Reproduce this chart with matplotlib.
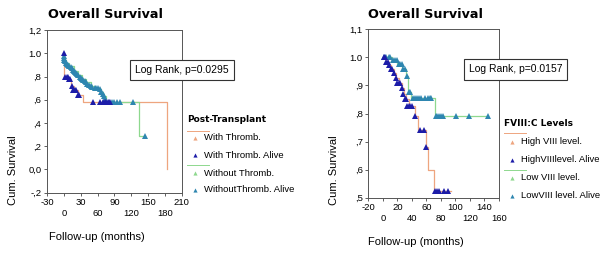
import matplotlib
matplotlib.use("Agg")
import matplotlib.pyplot as plt
from matplotlib.lines import Line2D

plt.rcParams['font.family'] = ['Liberation Sans', 'DejaVu Sans']

# ---- left panel: post-transplant thrombosis ----
thr_t = [0, 1, 10, 13, 18, 26, 34, 183]
thr_s = [1.0, 0.80, 0.78, 0.72, 0.68, 0.64, 0.58, 0.0]
thr_cens_t = [0, 2, 5, 7, 9, 11, 14, 17, 19, 21, 25, 27, 52, 64, 70, 73, 76, 78, 80, 83]
thr_cens_s = [1.0, 0.80, 0.80, 0.80, 0.78, 0.78, 0.72, 0.68, 0.68, 0.68, 0.64, 0.64,
              0.58, 0.58, 0.58, 0.58, 0.58, 0.58, 0.58, 0.58]

nothr_t = [0, 1, 4, 10, 18, 26, 33, 40, 48, 55, 64, 67, 70, 72, 75, 134, 145]
nothr_s = [1.0, 0.94, 0.92, 0.89, 0.85, 0.81, 0.78, 0.75, 0.72, 0.70, 0.69, 0.67, 0.65, 0.63, 0.58, 0.29, 0.29]
nothr_cens_t = [0, 0, 1, 2, 4, 6, 8, 10, 12, 14, 16, 18, 20, 22, 24, 26, 28, 30, 33, 35,
                38, 40, 42, 45, 48, 51, 55, 58, 61, 64, 67, 70, 72, 74, 85, 90, 95, 100, 124, 145]
nothr_cens_s = [0.98, 0.96, 0.94, 0.93, 0.92, 0.91, 0.90, 0.89, 0.88, 0.87, 0.86, 0.85, 0.84,
                0.83, 0.82, 0.81, 0.80, 0.79, 0.78, 0.77, 0.76, 0.75, 0.74, 0.73, 0.72, 0.71,
                0.70, 0.70, 0.70, 0.69, 0.67, 0.65, 0.63, 0.61, 0.58, 0.58, 0.58, 0.58, 0.58, 0.29]

# ---- right panel: FVIII:C levels ----
high_t = [0, 5, 9, 11, 15, 18, 22, 27, 29, 32, 36, 45, 49, 59, 62, 71, 94]
high_s = [1.0, 0.985, 0.973, 0.96, 0.945, 0.925, 0.91, 0.89, 0.87, 0.85, 0.825, 0.79,
          0.74, 0.68, 0.60, 0.525, 0.525]
high_cens_t = [1, 3, 5, 7, 9, 11, 13, 16, 18, 20, 22, 24, 26, 28, 30, 32, 34, 36, 38, 40,
               45, 51, 57, 60, 72, 75, 78, 84, 90]
high_cens_s = [1.0, 1.0, 0.985, 0.985, 0.973, 0.96, 0.96, 0.945, 0.925, 0.91, 0.91, 0.91,
               0.89, 0.87, 0.85, 0.85, 0.825, 0.825, 0.825, 0.825, 0.79, 0.74, 0.74, 0.68,
               0.525, 0.525, 0.525, 0.525, 0.525]

low_t = [0, 12, 20, 27, 32, 35, 39, 72, 145]
low_s = [1.0, 0.99, 0.975, 0.96, 0.935, 0.875, 0.855, 0.79, 0.79]
low_cens_t = [2, 5, 8, 10, 14, 17, 19, 22, 24, 26, 28, 30, 33, 36, 38, 42, 44, 47, 50, 52,
              58, 63, 65, 67, 73, 75, 77, 80, 83, 101, 119, 145]
low_cens_s = [1.0, 1.0, 1.0, 1.0, 0.99, 0.99, 0.99, 0.975, 0.975, 0.975, 0.96, 0.96, 0.935,
              0.875, 0.875, 0.855, 0.855, 0.855, 0.855, 0.855, 0.855, 0.855, 0.855, 0.855,
              0.79, 0.79, 0.79, 0.79, 0.79, 0.79, 0.79, 0.79]

left_xticks = [-30, 0, 30, 60, 90, 120, 150, 180, 210]
left_yticks = [-0.2, 0.0, 0.2, 0.4, 0.6, 0.8, 1.0, 1.2]
left_ylabels = ['-,2', '0,0', ',2', ',4', ',6', ',8', '1.0', '1,2']
right_xticks = [-20, 0, 20, 40, 60, 80, 100, 120, 140, 160]
right_yticks = [0.5, 0.6, 0.7, 0.8, 0.9, 1.0, 1.1]
right_ylabels = [',5', ',6', ',7', ',8', ',9', '1.0', '1,1']

ORANGE = '#eea57f'
GREEN = '#8ed88e'
NAVY = '#1c1ca8'
TEAL = '#2e86b0'

W, H = 600, 258
fig = plt.figure(figsize=(6.0, 2.58), dpi=100)


def fx(px):
    return px / W


def fy(py):
    return 1 - py / H


def staggered(ticks):
    return [str(t) if i % 2 == 0 else '\n' + str(t) for i, t in enumerate(ticks)]


def style_axes(ax, xticks, yticks, ylabels):
    ax.set_xticks(xticks)
    ax.set_xticklabels(staggered(xticks), fontsize=6.8, linespacing=1.2)
    ax.set_yticks(yticks)
    ax.set_yticklabels(ylabels, fontsize=6.8)
    ax.tick_params(length=2.5, width=0.6, color='#444444', pad=1.5)
    for s in ax.spines.values():
        s.set_linewidth(0.7)
        s.set_color('#555555')


# left axes
ax1 = fig.add_axes([fx(47), fy(192.7), fx(134.7), (192.7 - 30.1) / H])
ax1.step(thr_t, thr_s, where='post', color=ORANGE, lw=0.9)
ax1.step(nothr_t, nothr_s, where='post', color=GREEN, lw=0.9)
ax1.plot(nothr_cens_t, nothr_cens_s, '^', color=TEAL, ms=3.8, mew=0)
ax1.plot(thr_cens_t, thr_cens_s, '^', color=NAVY, ms=3.8, mew=0)
ax1.set_xlim(-30, 210)
ax1.set_ylim(-0.2, 1.2)
style_axes(ax1, left_xticks, left_yticks, left_ylabels)

# right axes
ax2 = fig.add_axes([fx(368.3), fy(197.7), fx(130.5), (197.7 - 29.3) / H])
ax2.step(high_t, high_s, where='post', color=ORANGE, lw=0.9)
ax2.step(low_t, low_s, where='post', color=GREEN, lw=0.9)
ax2.plot(low_cens_t, low_cens_s, '^', color=TEAL, ms=3.8, mew=0)
ax2.plot(high_cens_t, high_cens_s, '^', color=NAVY, ms=3.8, mew=0)
ax2.set_xlim(-20, 160)
ax2.set_ylim(0.5, 1.1)
style_axes(ax2, right_xticks, right_yticks, right_ylabels)

# titles and axis labels
for x0 in (48, 368):
    fig.text(fx(x0), fy(14), 'Overall Survival', fontsize=9.2, fontweight='heavy',
             family='DejaVu Sans', va='center', ha='left')
fig.text(fx(13), fy(170), 'Cum. Survival', rotation=90, fontsize=8, va='center', ha='center')
fig.text(fx(334), fy(170), 'Cum. Survival', rotation=90, fontsize=8, va='center', ha='center')
fig.text(fx(49), fy(237), 'Follow-up (months)', fontsize=8, va='center', ha='left')
fig.text(fx(368), fy(242), 'Follow-up (months)', fontsize=8, va='center', ha='left')

# log rank boxes
fig.text(fx(182), fy(70), 'Log Rank, p=0.0295', fontsize=7.5, ha='center', va='center',
         bbox=dict(boxstyle='square,pad=0.5', fc='white', ec='#333333', lw=0.8))
fig.text(fx(515.5), fy(69.5), 'Log Rank, p=0.0157', fontsize=7.5, ha='center', va='center',
         bbox=dict(boxstyle='square,pad=0.5', fc='white', ec='#333333', lw=0.8))


def legend(x0, ytitle, title, ys, labels, line_ys):
    fig.text(fx(x0), fy(ytitle), title, fontsize=6.5, fontweight='bold',
             family='DejaVu Sans', va='center', ha='left')
    for ly, col in zip(line_ys, [ORANGE, GREEN]):
        fig.add_artist(Line2D([fx(x0), fx(x0 + 22)], [fy(ly), fy(ly)], color=col, lw=0.7,
                              transform=fig.transFigure))
    for y, lab, col in zip(ys, labels, [ORANGE, NAVY, GREEN, TEAL]):
        fig.add_artist(Line2D([fx(x0 + 8)], [fy(y)], marker='^', ms=3, mew=0, color=col,
                              transform=fig.transFigure))
        fig.text(fx(x0 + 17), fy(y), lab, fontsize=6.8, va='center', ha='left')


legend(187, 120, 'Post-Transplant', [138, 155, 173, 190],
       ['With Thromb.', 'With Thromb. Alive', 'Without Thromb.', 'WithoutThromb. Alive'],
       [131, 165])
legend(504, 123, 'FVIII:C Levels', [142, 160, 178, 196],
       ['High VIII level.', 'HighVIIIlevel. Alive', 'Low VIII level.', 'LowVIII level. Alive'],
       [133, 170])

fig.savefig('out.png', dpi=100)
